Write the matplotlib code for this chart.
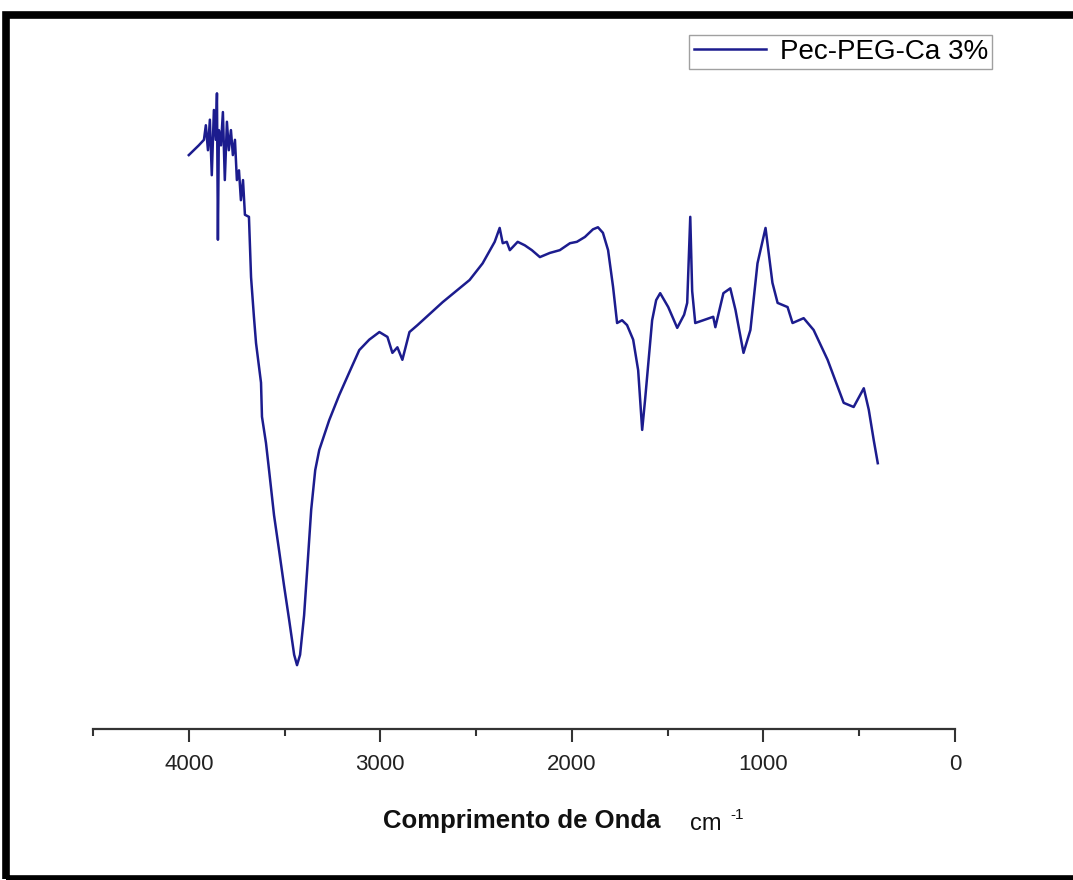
import numpy as np
import matplotlib
matplotlib.use("Agg")
import matplotlib.pyplot as plt
from matplotlib.patches import Rectangle
from matplotlib.ticker import MultipleLocator

plt.rcParams['font.family'] = ['Liberation Sans', 'DejaVu Sans']

# FTIR spectrum, Pec-PEG-Ca 3% (wavenumber in cm-1, transmittance in arbitrary %)
wavenumber = [
    4000, 3974, 3948, 3921, 3911, 3900, 3890, 3880, 3869, 3859, 3853, 3848, 3843,
    3832, 3822, 3812, 3801, 3791, 3780, 3770, 3759, 3749, 3738, 3728, 3717, 3707,
    3686, 3675, 3660, 3649, 3623, 3618, 3597, 3581, 3555, 3529, 3503, 3476, 3450,
    3435, 3419, 3398, 3382, 3361, 3340, 3319, 3267, 3215, 3162, 3110, 3058, 3005,
    2963, 2937, 2911, 2885, 2848, 2806, 2675, 2534, 2466, 2403, 2377, 2361,
    2340, 2324, 2283, 2246, 2209, 2167, 2115, 2063, 2010, 1974, 1932, 1890, 1864,
    1838, 1811, 1785, 1764, 1738, 1712,
    1680, 1654, 1633, 1618, 1581, 1560, 1539, 1497, 1450, 1414, 1398, 1382, 1372,
    1356, 1314, 1262, 1251, 1209, 1173, 1146, 1104, 1068, 1031, 989, 953, 926,
    874, 848, 790, 738, 665, 581, 529, 476, 450, 424, 403,
]
transmittance = [
    82.7, 83.4, 84.1, 84.9, 87.0, 83.4, 87.8, 79.8, 89.2, 84.9, 91.6, 70.5, 86.3,
    84.1, 88.9, 79.1, 87.5, 83.4, 86.3, 82.7, 84.9, 79.1, 80.5, 76.2, 79.1, 74.1,
    73.8, 65.1, 59.4, 55.6, 49.9, 45.0, 41.2, 37.3, 30.8, 25.8, 20.7, 15.7, 10.7,
    9.2, 10.7, 16.4, 22.9, 31.6, 37.3, 40.2, 44.5, 48.1, 51.4, 54.6, 56.1, 57.2,
    56.5, 54.2, 55.0, 53.2, 57.2, 58.2, 61.5, 64.7, 67.1, 70.2, 72.2, 70.0,
    70.2, 69.0, 70.2, 69.7, 69.0, 68.0, 68.6, 69.0, 70.0, 70.2, 70.9, 72.0, 72.3,
    71.5, 69.0, 63.7, 58.5, 58.9, 58.2,
    56.1, 51.7, 43.1, 47.4, 58.9, 61.8, 62.8, 60.8, 57.8, 59.7, 61.4, 73.8, 63.1,
    58.5, 58.9, 59.4, 57.9, 62.8, 63.5, 60.4, 54.2, 57.5, 67.1, 72.2, 64.3, 61.4,
    60.8, 58.5, 59.2, 57.5, 53.2, 47.0, 46.4, 49.1, 46.0, 41.6, 38.3,
]

fig = plt.figure(figsize=(10.73, 8.8), dpi=100)
ax = fig.add_axes([0.0867, 0.1716, 0.8033, 0.7886])

ax.plot(wavenumber, transmittance, color='#1c1c8e', lw=1.8, label='Pec-PEG-Ca 3%')

ax.set_xlim(4500, 0)
ax.set_ylim(0, 100)
ax.xaxis.set_major_locator(MultipleLocator(1000))
ax.xaxis.set_minor_locator(MultipleLocator(500))
ax.tick_params(axis='x', which='major', direction='out', length=9, width=1.5,
               labelsize=16, pad=9, color='#333333', labelcolor='#222222')
ax.tick_params(axis='x', which='minor', direction='out', length=5, width=1.5,
               color='#333333')
ax.set_yticks([])
for side in ('top', 'right', 'left'):
    ax.spines[side].set_visible(False)
ax.spines['bottom'].set_linewidth(1.6)
ax.spines['bottom'].set_color('#333333')

leg = ax.legend(loc='upper right', bbox_to_anchor=(1.043, 1.0), fontsize=20,
                frameon=True, fancybox=False, handlelength=2.6, handletextpad=0.5,
                borderpad=0.15, borderaxespad=0.0)
leg.get_frame().set_edgecolor('#888888')
leg.get_frame().set_linewidth(1.0)

# axis title: bold name plus unit with a small raised "-1"
fig.text(0.486, 0.059, 'Comprimento de Onda', fontsize=18.5, fontweight='bold',
         ha='center', va='baseline', color='#111111')
fig.text(0.643, 0.057, 'cm', fontsize=17, ha='left', va='baseline', color='#111111')
fig.text(0.681, 0.069, '-1', fontsize=11, ha='left', va='baseline', color='#111111')

# thick black frame around the whole picture
fig.patches.append(Rectangle((0.0056, 0.0015), 1.05, 0.981, transform=fig.transFigure,
                             fill=False, edgecolor='black', lw=5.5))

fig.savefig('out.png', dpi=100)
